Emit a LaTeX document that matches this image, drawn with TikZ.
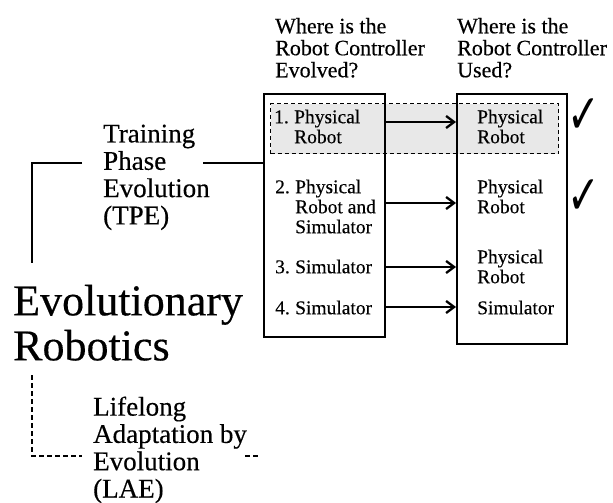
\documentclass[tikz,border=0pt]{standalone}
\usepackage{fontspec}
\setmainfont{Liberation Serif}[FakeBold=0.35]
\newfontfamily\symfont{DejaVu Sans}
\usetikzlibrary{arrows.meta}

\begin{document}
\begin{tikzpicture}[x=1pt,y=-1pt,
  lbl/.style={anchor=north west, inner sep=0pt, align=left},
  hdr/.style={lbl, font=\fontsize{22}{22}\selectfont},
  entry/.style={lbl, font=\fontsize{19.5}{20}\selectfont},
  phase/.style={lbl, font=\fontsize{27}{27.3}\selectfont},
  title/.style={lbl, font=\fontsize{44}{45}\selectfont},
  frame/.style={draw, line width=2.3pt, inner sep=0pt, anchor=north west},
  arr/.style={line width=2.3pt, -{Straight Barb[length=8pt,width=12pt,line width=2.3pt]}},
  link/.style={line width=2.3pt},
  dlink/.style={line width=2.2pt, dash pattern=on 5pt off 3pt},
  tick/.style={inner sep=0pt, font=\symfont\fontsize{46}{46}\selectfont}
]
\useasboundingbox[fill=white] (0,0) rectangle (613,503);

% highlighted first row
\node[draw, fill=gray!18, line width=1.4pt, dash pattern=on 4pt off 3pt,
      minimum width=288pt, minimum height=50pt, inner sep=0pt, anchor=north west]
      (hl) at (270,103) {};

% the two columns
\node[frame, minimum width=121pt, minimum height=243pt] (evolved) at (263,93) {};
\node[frame, minimum width=110pt, minimum height=250pt] (used) at (456,93) {};

% column headings
\node[hdr] (h1) at (275,17.8) {Where is the\\Robot Controller\\Evolved?};
\node[hdr] (h2) at (457,17.8) {Where is the\\Robot Controller\\Used?};

% where the controller is evolved
\node[entry] (e1) at (274,109.5) {\makebox[20pt][l]{1.}Physical\\\hspace*{20pt}Robot};
\node[entry] (e2) at (275,179.5) {\makebox[20pt][l]{2.}Physical\\\hspace*{20pt}Robot and\\\hspace*{20pt}Simulator};
\node[entry] (e3) at (275,259.5) {\makebox[20pt][l]{3.}Simulator};
\node[entry] (e4) at (275,300.5) {\makebox[20pt][l]{4.}Simulator};

% where the controller is used
\node[entry] (u1) at (477,109.5) {Physical\\Robot};
\node[entry] (u2) at (477,179.5) {Physical\\Robot};
\node[entry] (u3) at (477,249.5) {Physical\\Robot};
\node[entry] (u4) at (477,300.5) {Simulator};

% arrows between the columns
\coordinate (r1) at (420,122);
\coordinate (r2) at (420,203);
\coordinate (r3) at (420,267);
\coordinate (r4) at (420,307);
\foreach \r in {r1,r2,r3,r4}
  \draw[arr] (evolved.east |- \r) -- (used.west |- \r);

% check marks
\node[tick] (c1) at (584,116) {\scalebox{0.85}[1.2]{✓}};
\node[tick] (c2) at (584,197) {\scalebox{0.85}[1.2]{✓}};

% left-hand labels
\node[phase] (tpe) at (103,124.4) {Training\\Phase\\Evolution\\(TPE)};
\node[title] (er) at (13,284.6) {Evolutionary\\Robotics};
\node[phase] (lae) at (93,396.4) {Lifelong\\Adaptation by\\Evolution\\(LAE)};

% connectors of the left-hand labels
\coordinate (tpeL) at (82,163);
\coordinate (tpeR) at (203,163);
\coordinate (erTop) at (32,263);
\draw[link] (tpeR) -- (tpeR -| evolved.west);
\draw[link] (tpeL) -| (erTop);

\coordinate (erBot) at (32,375);
\coordinate (laeL) at (82,456);
\coordinate (laeR) at (245,456);
\coordinate (laeEnd) at (258,456);
\draw[dlink] (erBot) |- (laeL);
\draw[dlink] (laeR) -- (laeEnd);
\end{tikzpicture}
\end{document}
